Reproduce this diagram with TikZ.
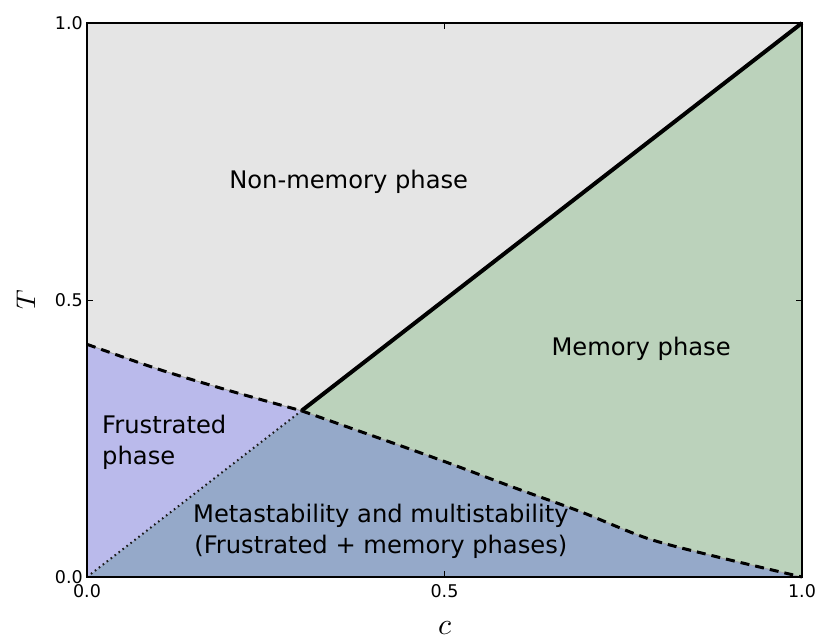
\documentclass[tikz,border=0pt]{standalone}
\usepackage{graphicx}
\usepackage{fontspec}
\setmainfont{DejaVu Sans}
\begin{document}
\definecolor{bggray}{RGB}{229,229,229}
\definecolor{memgreen}{RGB}{187,210,187}
\definecolor{frustr}{RGB}{186,186,235}
\definecolor{metablue}{RGB}{149,169,201}
\begin{tikzpicture}[x=715pt,y=554pt,
  lbl/.style={font=\fontsize{24.2}{31}\selectfont, inner sep=0pt},
  ticklbl/.style={font=\fontsize{17.5}{20}\selectfont, inner sep=0pt},
  boundary/.style={line width=3pt, dash pattern=on 9pt off 6pt},
  tickmark/.style={line width=0.8pt}]
\useasboundingbox (-87pt,-67pt) rectangle (735pt,577pt);
% key points
\coordinate (O) at (0,0);
\coordinate (TL) at (0,1);
\coordinate (TR) at (1,1);
\coordinate (BR) at (1,0);
\coordinate (J) at (0.3,0.3);
\coordinate (L) at (0,0.42);
% fills
\fill[bggray] (O) rectangle (TR);
\fill[memgreen] (J) -- (TR) -- (BR) -- (0.3,0) -- cycle;
\fill[metablue] (O) -- plot[smooth,tension=0.5] coordinates {(0.3,0.3) (0.41,0.25) (0.503,0.207) (0.596,0.162) (0.69,0.118) (0.783,0.07) (0.876,0.038) (1,0)} -- cycle;
\fill[frustr] (O) -- plot[smooth,tension=0.5] coordinates {(0,0.42) (0.1,0.375) (0.2,0.336) (0.3,0.3)} -- cycle;
% thin region edges
\draw[black!35, line width=0.8pt] plot[smooth,tension=0.5] coordinates {(0,0.42) (0.1,0.375) (0.2,0.336) (0.3,0.3)};
\draw[black!35, line width=0.8pt] plot[smooth,tension=0.5] coordinates {(0.3,0.3) (0.41,0.25) (0.503,0.207) (0.596,0.162) (0.69,0.118) (0.783,0.07) (0.876,0.038) (1,0)};
% boundaries
\draw[boundary] plot[smooth,tension=0.5] coordinates {(0,0.42) (0.1,0.375) (0.2,0.336) (0.3,0.3)};
\draw[boundary] plot[smooth,tension=0.5] coordinates {(0.3,0.3) (0.41,0.25) (0.503,0.207) (0.596,0.162) (0.69,0.118) (0.783,0.07) (0.876,0.038) (1,0)};
\draw[line width=2pt, dash pattern=on 1.6pt off 3.4pt, black!90] (O) -- (J);
\draw[line width=4pt] (J) -- (TR);
% frame and ticks
\draw[line width=1.2pt] (O) rectangle (TR);
\draw[tickmark] (0.5,0) -- ++(0,6pt) (0.5,1) -- ++(0,-6pt)
  (0,0.5) -- ++(6pt,0) (1,0.5) -- ++(-6pt,0);
% tick labels
\node[ticklbl, anchor=east] (y0) at ([xshift=-4pt]O) {0.0};
\node[ticklbl, anchor=east] (y5) at ([xshift=-4pt]0,0.5) {0.5};
\node[ticklbl, anchor=east] (y1) at ([xshift=-4pt]TL) {1.0};
\node[ticklbl, anchor=north] (x0) at ([yshift=-7pt]O) {0.0};
\node[ticklbl, anchor=north] (x5) at ([yshift=-7pt]0.5,0) {0.5};
\node[ticklbl, anchor=north] (x1) at ([yshift=-7pt]BR) {1.0};
% axis labels
\node[rotate=90, inner sep=0pt] (ylab) at ([xshift=-61pt]0,0.5) {\scalebox{2.7}{$T$}};
\node[inner sep=0pt] (xlab) at ([yshift=-51pt]0.5,0) {\scalebox{3}{$c$}};
% region labels
\node[lbl] (nonmem) at (0.366,0.713) {Non-memory phase};
\node[lbl] (mem) at (0.775,0.4116) {Memory phase};
\node[lbl, anchor=west, align=left] (frus) at (0.021,0.2437) {Frustrated\\phase};
\node[lbl, align=center] (meta) at (0.411,0.083) {Metastability and multistability\\(Frustrated + memory phases)};
\end{tikzpicture}
\end{document}
